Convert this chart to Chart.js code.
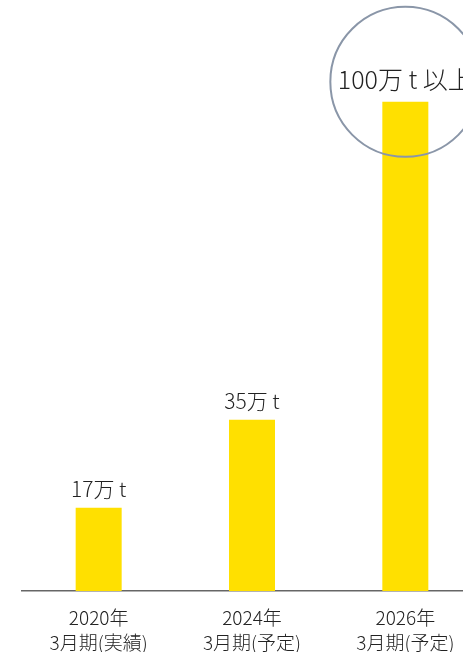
<!DOCTYPE html>
<html>
<head>
<meta charset="utf-8">
<script src="https://cdn.jsdelivr.net/npm/chart.js@4.4.0/dist/chart.umd.min.js"></script>
<style>
body{margin:0;background:#fff;overflow:hidden}
#wrap{width:482px;height:671px}
</style>
</head>
<body>
<div id="wrap"><canvas id="chartVolumeHTML" width="482" height="671"></canvas></div>
<script>
// 年度ラベル（2行）
var yearLabels = [['2020年','3月期(実績)'],['2024年','3月期(予定)'],['2026年','3月期(予定)']];
// 数量（万 t）
var volumeValues = [17, 35, 100];
var valueLabels = ['17万 t', '35万 t', '100万 t 以上'];

var FONT = '"Noto Sans CJK JP", "Noto Sans", sans-serif';

var topLabelsPlugin = {
  id: 'topLabels',
  afterDatasetsDraw: function(chart){
    var ctx = chart.ctx;
    var meta = chart.getDatasetMeta(0);
    ctx.save();
    ctx.textAlign = 'center';
    ctx.textBaseline = 'middle';
    ctx.fillStyle = '#222';
    meta.data.forEach(function(bar, i){
      var last = i == meta.data.length - 1;
      if (last) {
        // 丸囲み
        ctx.beginPath();
        ctx.arc(bar.x, bar.y - 20, 75, 0, Math.PI*2);
        ctx.lineWidth = 2;
        ctx.strokeStyle = '#8a96a8';
        ctx.stroke();
        ctx.font = '300 25px ' + FONT;
        ctx.fillText(valueLabels[i], bar.x, bar.y - 22);
      } else {
        ctx.font = '300 21px ' + FONT;
        ctx.fillText(valueLabels[i], bar.x, bar.y - 19);
      }
    });
    ctx.restore();
  }
};

var chartVolume = new Chart(
  document.getElementById('chartVolumeHTML'),
  {
    type: 'bar',
    data: {
      labels: yearLabels,
      datasets: [{
        label: 'volume',
        data: volumeValues,
        backgroundColor: '#FFE000',
        barPercentage: 0.3,
        categoryPercentage: 1
      }]
    },
    options: {
      responsive: false,
      animation: false,
      layout: {padding: {left: 22, right: 0, top: 4, bottom: 2}},
      scales: {
        y: {display: false, min: 0, max: 120},
        x: {
          grid: {display: false, drawTicks: false},
          border: {display: true, color: '#666', width: 1.5},
          ticks: {
            color: '#222',
            padding: 14,
            font: {family: FONT, size: 19, weight: 300, lineHeight: '25px'}
          }
        }
      },
      plugins: {
        legend: {display: false},
        tooltip: {enabled: false}
      }
    },
    plugins: [topLabelsPlugin]
  }
);
</script>
</body>
</html>
